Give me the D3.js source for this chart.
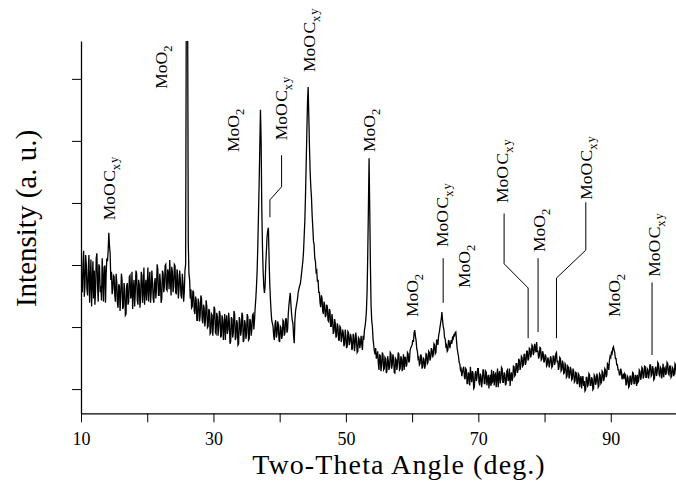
<!DOCTYPE html>
<html>
<head>
<meta charset="utf-8">
<script src="https://cdn.jsdelivr.net/npm/d3@7"></script>
<style>
  body { margin: 0; background: #fff; }
  svg { display: block; font-family: "Liberation Serif", "Times New Roman", serif; }
</style>
</head>
<body>
<svg id="chart" width="676" height="482"></svg>
<script>
// scan grid (deg.) and measured intensity (a. u.), one value per 0.1 deg
const scanStart = 10, scanStep = 0.1;
const intensity = [
  250, 205, 195, 240, 262, 188, 205, 255, 240, 200,   // 10
  190, 232, 255, 178, 215, 248, 172, 210, 245, 185,   // 11
  230, 175, 198, 250, 258, 205, 180, 240, 236, 195,   // 12
  205, 182, 250, 215, 180, 235, 238, 178, 225, 250,   // 13
  245, 262, 291, 270, 258, 215, 228, 192, 200, 222,   // 14
  220, 190, 180, 225, 212, 178, 170, 208, 205, 165,   // 15
  188, 225, 215, 168, 172, 210, 200, 158, 160, 205,   // 16
  210, 175, 180, 220, 222, 185, 190, 228, 168, 200,   // 17
  215, 172, 195, 230, 225, 182, 175, 215, 208, 170,   // 18
  185, 228, 222, 178, 198, 235, 175, 200, 215, 182,   // 19
  205, 235, 180, 210, 228, 178, 195, 230, 212, 185,   // 20
  178, 210, 218, 185, 200, 240, 232, 190, 190, 225,   // 21
  210, 178, 185, 230, 225, 195, 205, 238, 240, 200,   // 22
  198, 232, 225, 200, 247, 215, 190, 236, 228, 195,   // 23
  205, 240, 238, 195, 192, 232, 222, 185, 200, 230,   // 24
  215, 190, 185, 225, 210, 180, 196, 230, 240, 650,   // 25
  720, 660, 275, 225, 215, 185, 200, 170, 172, 198,   // 26
  195, 165, 160, 188, 182, 150, 150, 185, 178, 148,   // 27
  158, 190, 185, 150, 145, 175, 170, 140, 150, 182,   // 28
  172, 138, 140, 168, 165, 128, 130, 160, 158, 125,   // 29
  145, 172, 168, 130, 128, 162, 155, 125, 138, 165,   // 30
  160, 122, 125, 158, 150, 118, 140, 160, 118, 148,   // 31
  158, 128, 135, 162, 148, 112, 115, 155, 152, 122,   // 32
  130, 165, 160, 118, 122, 150, 145, 110, 112, 155,   // 33
  150, 125, 132, 162, 158, 115, 118, 150, 145, 120,   // 34
  128, 160, 155, 118, 120, 152, 148, 125, 135, 158,   // 35
  160, 135, 150, 170, 185, 205, 230, 270, 320, 370,   // 36
  430, 489, 440, 330, 270, 230, 205, 194, 205, 240,   // 37
  262, 285, 295, 299, 250, 210, 185, 165, 150, 145,   // 38
  140, 125, 118, 145, 150, 122, 128, 148, 142, 118,   // 39
  115, 140, 138, 120, 125, 150, 148, 125, 130, 152,   // 40
  152, 130, 135, 160, 175, 185, 194, 175, 160, 150,   // 41
  145, 125, 113, 150, 165, 172, 178, 185, 195, 200,   // 42
  205, 208, 215, 225, 235, 245, 260, 285, 310, 350,   // 43
  400, 450, 500, 526, 480, 430, 390, 365, 349, 320,   // 44
  300, 278, 272, 250, 245, 228, 230, 212, 215, 195,   // 45
  195, 178, 171, 190, 185, 165, 160, 180, 175, 155,   // 46
  158, 175, 172, 150, 148, 168, 165, 140, 140, 160,   // 47
  150, 128, 132, 152, 145, 122, 125, 145, 140, 118,   // 48
  118, 140, 138, 115, 122, 135, 130, 108, 112, 135,   // 49
  125, 105, 108, 132, 130, 110, 115, 128, 122, 102,   // 50
  105, 128, 125, 100, 112, 130, 118, 98, 100, 122,    // 51
  120, 105, 113, 125, 110, 102, 125, 118, 134, 140,   // 52
  150, 165, 195, 255, 330, 411, 330, 240, 175, 150,   // 53
  140, 120, 110, 100, 95, 105, 88, 92, 100, 80,       // 54
  70, 95, 92, 68, 78, 98, 95, 70, 72, 90,             // 55
  88, 65, 68, 92, 85, 70, 75, 98, 96, 72,             // 56
  78, 95, 90, 66, 65, 88, 86, 70, 80, 98,             // 57
  95, 70, 72, 92, 88, 68, 80, 95, 70, 90,             // 58
  90, 75, 78, 98, 96, 82, 85, 102, 105, 108,          // 59
  110, 118, 115, 130, 134, 124, 118, 104, 100, 88,    // 60
  90, 78, 80, 95, 92, 72, 75, 90, 86, 72,             // 61
  78, 96, 95, 80, 82, 100, 98, 85, 90, 105,           // 62
  102, 90, 95, 112, 110, 96, 98, 118, 118, 110,       // 63
  125, 130, 138, 145, 152, 163, 150, 140, 135, 122,   // 64
  120, 108, 110, 100, 102, 118, 115, 105, 112, 118,   // 65
  112, 122, 120, 126, 125, 130, 131, 118, 105, 98,    // 66
  92, 82, 80, 70, 72, 60, 65, 72, 75, 58,             // 67
  55, 72, 70, 48, 48, 66, 62, 45, 75, 60,             // 68
  50, 68, 65, 40, 42, 62, 68, 52, 58, 72,             // 69
  72, 50, 45, 64, 60, 42, 52, 70, 70, 48,             // 70
  48, 68, 66, 45, 55, 62, 40, 55, 62, 44,             // 71
  70, 50, 52, 68, 45, 62, 64, 42, 58, 72,             // 72
  42, 62, 68, 48, 55, 74, 72, 50, 50, 66,             // 73
  63, 45, 48, 68, 70, 52, 56, 72, 44, 60,             // 74
  66, 52, 58, 76, 75, 60, 62, 80, 80, 65,             // 75
  70, 88, 85, 70, 75, 92, 90, 76, 78, 95,             // 76
  95, 78, 82, 100, 100, 85, 88, 105, 104, 90,         // 77
  95, 110, 108, 94, 98, 112, 106, 98, 115, 100,       // 78
  100, 88, 92, 106, 105, 86, 88, 100, 96, 82,         // 79
  85, 95, 92, 76, 78, 90, 86, 74, 80, 92,             // 80
  88, 74, 76, 92, 92, 78, 82, 96, 98, 82,             // 81
  85, 70, 75, 90, 88, 68, 70, 85, 80, 64,             // 82
  65, 80, 78, 58, 60, 76, 74, 56, 62, 75,             // 83
  70, 54, 56, 72, 68, 50, 52, 66, 65, 48,             // 84
  48, 64, 62, 42, 55, 60, 40, 55, 60, 44,             // 85
  52, 36, 38, 58, 58, 44, 46, 64, 62, 45,             // 86
  45, 58, 55, 38, 40, 62, 60, 46, 50, 64,             // 87
  58, 42, 44, 64, 62, 48, 50, 68, 66, 52,             // 88
  55, 72, 70, 58, 62, 80, 78, 70, 85, 92,             // 89
  90, 98, 96, 104, 107, 102, 98, 88, 88, 78,          // 90
  78, 70, 70, 62, 62, 72, 68, 55, 58, 64,             // 91
  55, 64, 62, 45, 48, 60, 58, 42, 44, 60,             // 92
  60, 46, 50, 66, 65, 48, 48, 62, 58, 44,             // 93
  62, 50, 52, 70, 68, 54, 58, 74, 72, 56,             // 94
  60, 76, 75, 58, 58, 72, 70, 56, 64, 78,             // 95
  78, 60, 62, 76, 72, 54, 56, 72, 75, 60,             // 96
  65, 82, 80, 62, 60, 74, 72, 56, 68, 80,             // 97
  58, 72, 74, 62, 66, 82, 80, 64, 62, 76,             // 98
  76, 58, 60, 74, 72, 60, 64, 80, 78, 62,             // 99
  70                                                  // 100
];

const xTicks = [10, 20, 30, 40, 50, 60, 70, 80, 90, 100];
const xTickLabels = [10, 30, 50, 70, 90];
const yTicks = [39, 139, 239, 339, 439, 539];

// peak assignments: phase, label position (deg., a. u.)
const peakPhase = ["MoOxCy", "MoO2", "MoO2", "MoOxCy", "MoOxCy", "MoO2", "MoO2",
                   "MoOxCy", "MoO2", "MoOxCy", "MoO2", "MoOxCy", "MoO2", "MoOxCy"];
const labelAngle = [15.13, 22.98, 33.85, 41.09, 45.32, 54.38, 60.87,
                    65.40, 68.72, 74.45, 80.04, 87.13, 91.36, 97.40];
const labelLevel = [311, 523, 421, 440, 550, 421, 155, 268, 202, 339, 260, 344, 155, 220];

// leader lines from labels to peaks (deg., a. u.)
const leaders = [
  [[40.29, 416], [40.29, 365], [38.53, 344], [38.53, 316]],
  [[64.69, 250], [64.69, 178]],
  [[73.89, 322], [73.89, 241], [77.52, 202], [77.52, 121]],
  [[79.02, 250], [79.02, 131]],
  [[86.23, 340], [86.23, 263], [81.80, 218], [81.80, 121]],
  [[96.23, 211], [96.23, 94]]
];

const margin = {top: 41, left: 81},
      width = 596,
      height = 372.3;

const scan = intensity.map((v, i) => ({t: scanStart + i * scanStep, v: v}));

const xScale = d3.scaleLinear().domain([10, 100]).range([0, width]);
const yScale = d3.scaleLinear().domain([0, 600]).range([height, 0]);

const svg = d3.select("#chart");
const chart = svg.append("g")
    .attr("transform", `translate(${margin.left}, ${margin.top})`);

chart.append("clipPath")
    .attr("id", "plot-clip")
  .append("rect")
    .attr("width", width)
    .attr("height", height);

chart.append("path")
    .datum(scan)
    .attr("clip-path", "url(#plot-clip)")
    .attr("fill", "none")
    .attr("stroke", "#000")
    .attr("stroke-width", 1.3)
    .attr("d", d3.line()
        .x(d => xScale(d.t))
        .y(d => yScale(d.v)));

// axes
const xAxis = chart.append("g")
    .attr("transform", `translate(0, ${height})`)
    .call(d3.axisBottom(xScale)
        .tickValues(xTicks)
        .tickSize(9)
        .tickSizeOuter(0)
        .tickPadding(10)
        .tickFormat(d => d));

xAxis.selectAll(".tick text")
    .filter(d => !xTickLabels.includes(d))
    .remove();

const yAxis = chart.append("g")
    .call(d3.axisLeft(yScale)
        .tickValues(yTicks)
        .tickSize(9)
        .tickSizeOuter(0)
        .tickFormat(""));
yAxis.selectAll(".tick text").remove();

for (const ax of [xAxis, yAxis]) {
  ax.select(".domain").attr("stroke-width", 1.3);
  ax.selectAll(".tick line").attr("stroke-width", 1);
}
xAxis.selectAll("text")
    .attr("font-family", "Liberation Serif")
    .attr("font-size", 18)
    .attr("fill", "#000");

// peak labels, rotated
const labels = chart.selectAll(".peak-label")
    .data(peakPhase)
    .enter().append("text")
    .attr("class", "peak-label")
    .attr("font-size", 17.5)
    .attr("transform", (d, i) =>
        `translate(${xScale(labelAngle[i])}, ${yScale(labelLevel[i])}) rotate(-90)`);

labels.each(function(d) {
  const t = d3.select(this);
  if (d === "MoO2") {
    t.append("tspan").text("MoO");
    t.append("tspan").attr("dy", 5).attr("font-size", 12.5).text("2");
  } else {
    t.append("tspan").text("MoO");
    t.append("tspan").attr("dx", 1.5).text("C");
    t.append("tspan").attr("dy", 5).attr("font-size", 12.5).text("x");
    t.append("tspan").attr("dx", 1).attr("dy", -2).attr("font-size", 12.5).text("y");
  }
});

chart.selectAll(".leader")
    .data(leaders)
    .enter().append("path")
    .attr("class", "leader")
    .attr("fill", "none")
    .attr("stroke", "#000")
    .attr("stroke-width", 1)
    .attr("d", d3.line().x(d => xScale(d[0])).y(d => yScale(d[1])));

// axis titles
svg.append("text")
    .attr("x", 399)
    .attr("y", 473.5)
    .attr("text-anchor", "middle")
    .attr("font-size", 28)
    .attr("letter-spacing", 1.1)
    .text("Two-Theta Angle (deg.)");

svg.append("text")
    .attr("transform", "translate(36, 218.5) rotate(-90)")
    .attr("text-anchor", "middle")
    .attr("font-size", 29)
    .text("Intensity (a. u.)");
</script>
</body>
</html>
